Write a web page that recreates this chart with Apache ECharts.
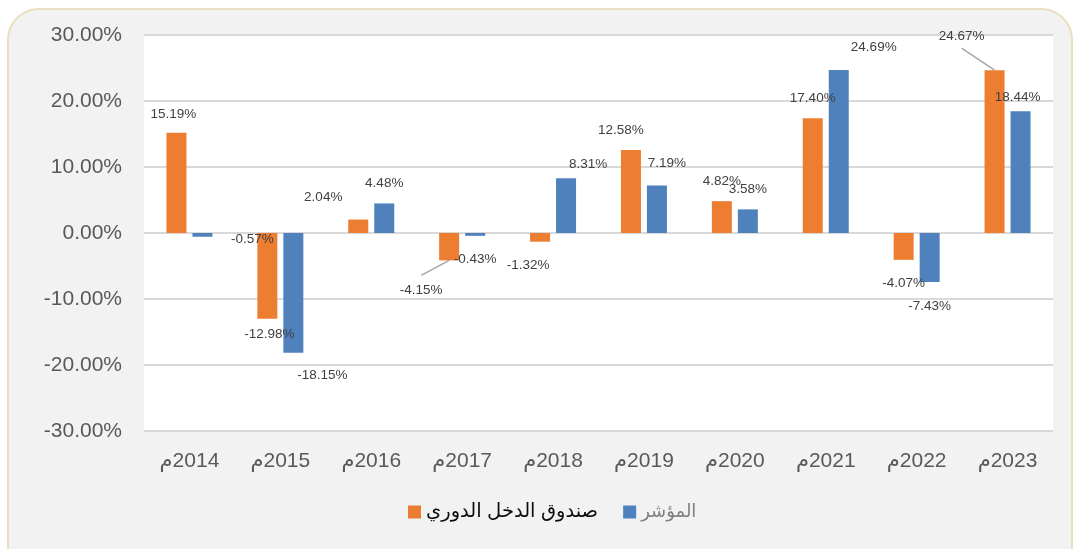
<!DOCTYPE html>
<html>
<head>
<meta charset="utf-8">
<script src="https://cdn.jsdelivr.net/npm/echarts@6/dist/echarts.min.js"></script>
<style>
  html, body { margin: 0; padding: 0; background: #ffffff; overflow: hidden; }
  #card {
    position: absolute; left: 7px; top: 8px; width: 1066px; height: 580px;
    background: #f2f2f2; border: 2px solid #eadfc0; border-radius: 32px; box-sizing: border-box;
  }
  #main { position: absolute; left: 0; top: 0; width: 1076px; height: 549px; }
</style>
</head>
<body>
<div id="card"></div>
<div id="main"></div>
<script>
// السنوات
var years = ['2014م', '2015م', '2016م', '2017م', '2018م', '2019م', '2020م', '2021م', '2022م', '2023م'];
// صندوق الدخل الدوري
var fundValues = [15.19, -12.98, 2.04, -4.15, -1.32, 12.58, 4.82, 17.40, -4.07, 24.67];
// المؤشر
var indexValues = [-0.57, -18.15, 4.48, -0.43, 8.31, 7.19, 3.58, 24.69, -7.43, 18.44];
var seriesNames = ['صندوق الدخل الدوري', 'المؤشر'];

// إزاحة التسميات (مثل اكسل)
var fundShift = [[-3, 2], [2, -4], [-35, -2], [-28, 10], [-12, 4], [-10, 0], [0, 0], [0, 0], [0, 3], [-33, -14]];
var indexShift = [[50, -17], [29, 2], [0, 0], [0, 3], [22, 6], [10, -2], [0, 0], [35, -3], [0, 4], [-3, 6]];
var fundLeader = [false, false, false, true, false, false, false, false, false, true];

var FONT = "'Liberation Sans', 'DejaVu Sans', 'Noto Sans', sans-serif";
var BAR_W = 20, HALF_STEP = 13, LABEL_OFF = 20;

function buildData(values) {
  var out = [];
  for (var i = 0; i < values.length; i++) {
    out.push({ value: values[i], label: { position: values[i] < 0 ? 'bottom' : 'top' } });
  }
  return out;
}

// خطوط الربط للتسميات المزاحة
var leaderData = [];
for (var i = 0; i < fundValues.length; i++) {
  if (fundLeader[i]) leaderData.push([i, fundValues[i], fundShift[i][0], fundShift[i][1]]);
}

var labelStyle = {
  show: true,
  distance: 12,
  color: '#404040',
  fontSize: 13.5,
  lineHeight: 16,
  fontFamily: FONT,
  formatter: function (p) { return p.value.toFixed(2) + '%'; }
};

var myChart = echarts.init(document.getElementById('main'));
var option = {
  backgroundColor: 'transparent',
  animation: false,
  grid: {
    left: 144, right: 23, top: 35, bottom: 118,
    show: true, backgroundColor: '#ffffff', borderWidth: 0
  },
  legend: {
    bottom: 22,
    left: 403,
    icon: 'rect',
    itemWidth: 13,
    itemHeight: 13,
    itemGap: 25,
    textStyle: { fontSize: 18, fontFamily: FONT, color: '#262626' },
    data: [
      { name: seriesNames[0], textStyle: { color: '#0d0d0d', fontSize: 19.5 } },
      { name: seriesNames[1], textStyle: { color: '#7f7f7f' } }
    ]
  },
  xAxis: {
    type: 'category',
    data: years,
    axisLine: { show: false, onZero: false },
    axisTick: { show: false },
    axisLabel: {
      margin: 20,
      fontSize: 21,
      color: '#595959',
      fontFamily: FONT,
      formatter: function (v) { return '\u200F' + v; }
    }
  },
  yAxis: {
    type: 'value',
    min: -30,
    max: 30,
    interval: 10,
    axisLine: { show: false },
    axisTick: { show: false },
    splitLine: { lineStyle: { color: '#d9d9d9', width: 2 } },
    axisLabel: {
      margin: 22,
      fontSize: 21,
      color: '#595959',
      fontFamily: FONT,
      formatter: function (v) { return v.toFixed(2) + '%'; }
    }
  },
  series: [
    {
      name: seriesNames[0],
      type: 'bar',
      barWidth: BAR_W,
      barGap: '30%',
      itemStyle: { color: '#ed7d31' },
      label: labelStyle,
      labelLayout: function (p) { var s = fundShift[p.dataIndex]; return { dx: s[0], dy: s[1] }; },
      data: buildData(fundValues)
    },
    {
      name: seriesNames[1],
      type: 'bar',
      barWidth: BAR_W,
      barGap: '30%',
      itemStyle: { color: '#4f81bd' },
      label: labelStyle,
      labelLayout: function (p) { var s = indexShift[p.dataIndex]; return { dx: s[0], dy: s[1] }; },
      data: buildData(indexValues)
    },
    {
      type: 'custom',
      silent: true,
      z: 5,
      data: leaderData,
      renderItem: function (params, api) {
        var v = api.value(1);
        var p = api.coord([api.value(0), v]);
        var x0 = p[0] - HALF_STEP, y0 = p[1];
        var sign = v < 0 ? 1 : -1;
        var cx = x0 + api.value(2);
        var cy = y0 + sign * LABEL_OFF + api.value(3);
        var y1 = cy - sign * (v < 0 ? 15 : 12);
        return {
          type: 'line',
          shape: { x1: x0, y1: y0, x2: cx, y2: y1 },
          style: { stroke: '#a6a6a6', lineWidth: 1.5 }
        };
      }
    }
  ]
};
myChart.setOption(option);
</script>
</body>
</html>
